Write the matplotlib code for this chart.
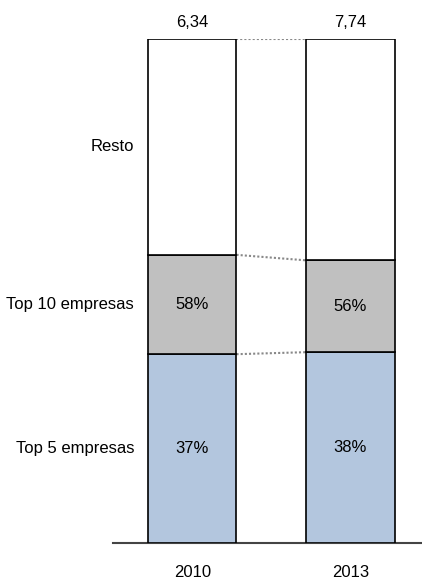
import matplotlib
matplotlib.use("Agg")
import matplotlib.pyplot as plt

years = ["2010", "2013"]
totals = ["6,34", "7,74"]
top5 = [0.375, 0.379]      # share
top10 = [0.572, 0.561]     # cumulative share
top5_lbl = ["37%", "38%"]
top10_lbl = ["58%", "56%"]
segments = ["Top 5 empresas", "Top 10 empresas", "Resto"]

plt.rcParams["font.family"] = ["Liberation Sans Narrow", "Liberation Sans", "DejaVu Sans"]

fig = plt.figure(figsize=(4.22, 5.82), dpi=100)
ax = fig.add_axes([113 / 422, 1 - 543.3 / 582, 1 - 113 / 422, 504.3 / 582])

x = [0, 1]
w = 0.557
blue = "#B3C6DE"
grey = "#C0C0C0"

for i in x:
    ax.bar(i, top5[i], w, color=blue, edgecolor="black", lw=1.2, zorder=3)
    ax.bar(i, top10[i] - top5[i], w, bottom=top5[i], color=grey, edgecolor="black", lw=1.2, zorder=3)
    ax.bar(i, 1 - top10[i], w, bottom=top10[i], color="white", edgecolor="black", lw=1.2, zorder=3)
    ax.text(i, top5[i] / 2, top5_lbl[i], ha="center", va="center", fontsize=12)
    ax.text(i, (top5[i] + top10[i]) / 2, top10_lbl[i], ha="center", va="center", fontsize=12)
    ax.text(i, 1.033, totals[i], ha="center", va="center", fontsize=12, clip_on=False)
    ax.text(i, -0.058, years[i], ha="center", va="center", fontsize=12, clip_on=False)

# dotted connectors between the bars
for a, b in [(top5[0], top5[1]), (top10[0], top10[1]), (1, 1)]:
    ax.plot([w / 2, 1 - w / 2], [a, b], color="#888888", ls=(0, (1, 1)), lw=1.5, zorder=2)

# segment labels on the left, at 2010 midpoints
mids = [top5[0] / 2, (top5[0] + top10[0]) / 2, (top10[0] + 1) / 2]
for name, m in zip(segments, mids):
    ax.text(-0.37, m, name, ha="right", va="center", fontsize=12, clip_on=False)

ax.set_xlim(-0.503, 1.4525)
ax.set_ylim(0, 1)
for s in ["top", "left", "right"]:
    ax.spines[s].set_visible(False)
ax.spines["bottom"].set_color("#444444")
ax.spines["bottom"].set_linewidth(1.5)
ax.set_xticks([])
ax.set_yticks([])

fig.savefig("out.png", dpi=100)
